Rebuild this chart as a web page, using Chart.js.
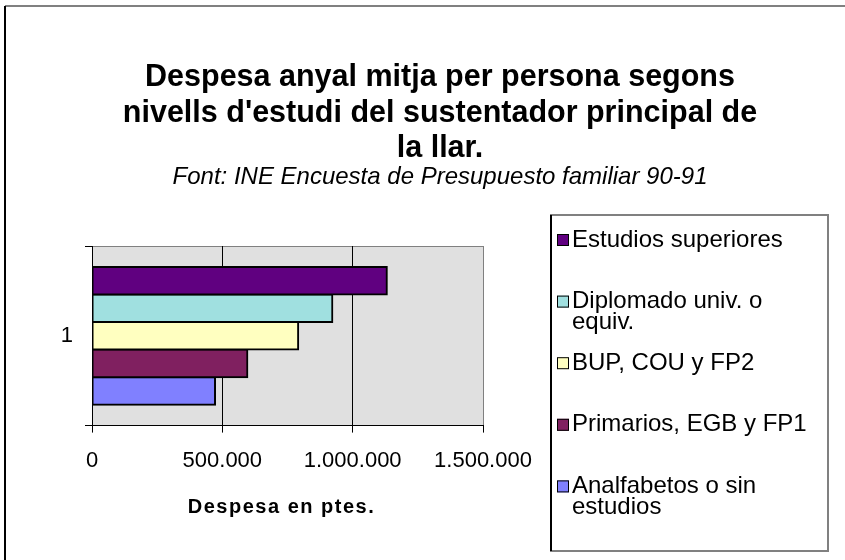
<!DOCTYPE html>
<html>
<head>
<meta charset="utf-8">
<script src="https://cdn.jsdelivr.net/npm/chart.js@4/dist/chart.umd.min.js"></script>
<style>
  html, body { margin: 0; padding: 0; background: #fff; }
</style>
</head>
<body>
<canvas id="chart" width="845" height="560"></canvas>
<script>
// chart data
const titleLines = ['Despesa anyal mitja per persona segons', "nivells d'estudi del sustentador principal de", 'la llar.'];
const subtitleText = 'Font: INE Encuesta de Presupuesto familiar 90-91';
const xAxisTitle = 'Despesa en ptes.';
const categories = ['1'];
const seriesNames = ['Estudios superiores', 'Diplomado univ. o equiv.', 'BUP, COU y FP2', 'Primarios, EGB y FP1', 'Analfabetos o sin estudios'];
const estudiosSuperiores = [1131000];
const diplomado = [922000];
const bupCou = [791000];
const primarios = [596000];
const analfabetos = [472000];
const xTicks = [0, 500000, 1000000, 1500000];

const seriesValues = [estudiosSuperiores, diplomado, bupCou, primarios, analfabetos];
const seriesColors = ['#600080', '#A0E0E0', '#FFFFC0', '#802060', '#8080FF'];
const FONT = "'Liberation Sans', Arial, sans-serif";

const fmt = v => String(v).replace(/\B(?=(\d{3})+(?!\d))/g, '.');

function wrapText(ctx, text, maxW) {
    const words = text.split(' ');
    const lines = [];
    let cur = '';
    words.forEach(w => {
        const test = cur ? cur + ' ' + w : w;
        if (cur && ctx.measureText(test).width > maxW) {
            lines.push(cur);
            cur = w;
        } else {
            cur = test;
        }
    });
    if (cur) lines.push(cur);
    return lines;
}

const decor = {
    id: 'decor',
    beforeDraw: chart => {
        const ctx = chart.ctx;
        const a = chart.chartArea;
        ctx.save();
        ctx.fillStyle = '#fff';
        ctx.fillRect(0, 0, chart.width, chart.height);
        // outer frame
        ctx.lineWidth = 2;
        ctx.strokeStyle = '#808080';
        ctx.beginPath(); ctx.moveTo(5, 6); ctx.lineTo(chart.width, 6); ctx.stroke();
        ctx.strokeStyle = '#000';
        ctx.beginPath(); ctx.moveTo(5, 6); ctx.lineTo(5, chart.height); ctx.stroke();
        // plot area
        ctx.fillStyle = '#E0E0E0';
        ctx.fillRect(a.left, a.top, a.right - a.left, a.bottom - a.top);
        ctx.lineWidth = 1;
        ctx.strokeStyle = '#808080';
        ctx.beginPath(); ctx.moveTo(a.left, a.top + 0.5); ctx.lineTo(a.right, a.top + 0.5); ctx.stroke();
        // titles
        ctx.fillStyle = '#000';
        ctx.textAlign = 'center';
        ctx.textBaseline = 'middle';
        ctx.font = 'bold 30.5px ' + FONT;
        titleLines.forEach((t, i) => ctx.fillText(t, 440, 78 + i * 35.5));
        ctx.font = 'italic 24px ' + FONT;
        ctx.fillText(subtitleText, 440, 177);
        ctx.restore();
    },
    afterDraw: chart => {
        const ctx = chart.ctx;
        const a = chart.chartArea;
        ctx.save();
        // x axis title, letter-spaced
        ctx.fillStyle = '#000';
        ctx.textAlign = 'center';
        ctx.textBaseline = 'middle';
        ctx.font = 'bold 20px ' + FONT;
        ctx.letterSpacing = '1.5px';
        ctx.fillText(xAxisTitle, (a.left + a.right) / 2 - 6, 507);
        ctx.letterSpacing = '0px';
        // legend
        const box = {left: 551, top: 215, right: 828, bottom: 551};
        ctx.fillStyle = '#fff';
        ctx.fillRect(box.left, box.top, box.right - box.left, box.bottom - box.top);
        ctx.lineWidth = 2;
        ctx.strokeStyle = '#808080';
        ctx.strokeRect(box.left, box.top, box.right - box.left, box.bottom - box.top);
        ctx.strokeStyle = '#000';
        ctx.beginPath(); ctx.moveTo(box.left, box.top); ctx.lineTo(box.left, box.bottom); ctx.stroke();
        ctx.font = '24px ' + FONT;
        ctx.textAlign = 'left';
        chart.data.datasets.forEach((ds, i) => {
            const y = box.top + 25 + i * 61.6;
            ctx.fillStyle = ds.backgroundColor;
            ctx.fillRect(557, y - 6, 12, 12);
            ctx.lineWidth = 1;
            ctx.strokeStyle = '#000';
            ctx.strokeRect(557.5, y - 5.5, 11, 11);
            ctx.fillStyle = '#000';
            wrapText(ctx, ds.label, 250).forEach((line, j) => ctx.fillText(line, 572, y + j * 21));
        });
        ctx.restore();
    }
};

const chart = new Chart(document.getElementById('chart').getContext('2d'), {
    type: 'bar',
    plugins: [decor],
    data: {
        labels: categories,
        datasets: seriesNames.map((name, i) => ({
            label: name,
            data: seriesValues[i],
            backgroundColor: seriesColors[i],
            borderColor: '#000',
            borderWidth: 2,
            borderSkipped: false,
            inflateAmount: 1,
            categoryPercentage: 0.767,
            barPercentage: 1
        }))
    },
    options: {
        indexAxis: 'y',
        responsive: false,
        devicePixelRatio: 1,
        animation: false,
        layout: {
            padding: {left: 5, right: 362, top: 246, bottom: 71}
        },
        plugins: {
            legend: {display: false},
            title: {display: false},
            tooltip: {enabled: false}
        },
        scales: {
            x: {
                min: 0,
                max: 1500000,
                afterBuildTicks: s => { s.ticks = xTicks.map(v => ({value: v})); },
                grid: {
                    color: c => (c.tick && c.tick.value === 1500000) ? '#808080' : '#000',
                    tickColor: '#000',
                    tickLength: 7,
                    lineWidth: 1
                },
                border: {display: true, color: '#000', width: 1},
                ticks: {
                    color: '#000',
                    padding: 15,
                    font: {family: FONT, size: 22},
                    callback: v => fmt(v)
                }
            },
            y: {
                afterFit: s => { s.width = 87; },
                grid: {
                    offset: true,
                    drawOnChartArea: false,
                    color: '#000',
                    tickLength: 7
                },
                border: {display: true, color: '#000', width: 1},
                ticks: {
                    color: '#000',
                    padding: 12,
                    font: {family: FONT, size: 22}
                }
            }
        }
    }
});
</script>
</body>
</html>
